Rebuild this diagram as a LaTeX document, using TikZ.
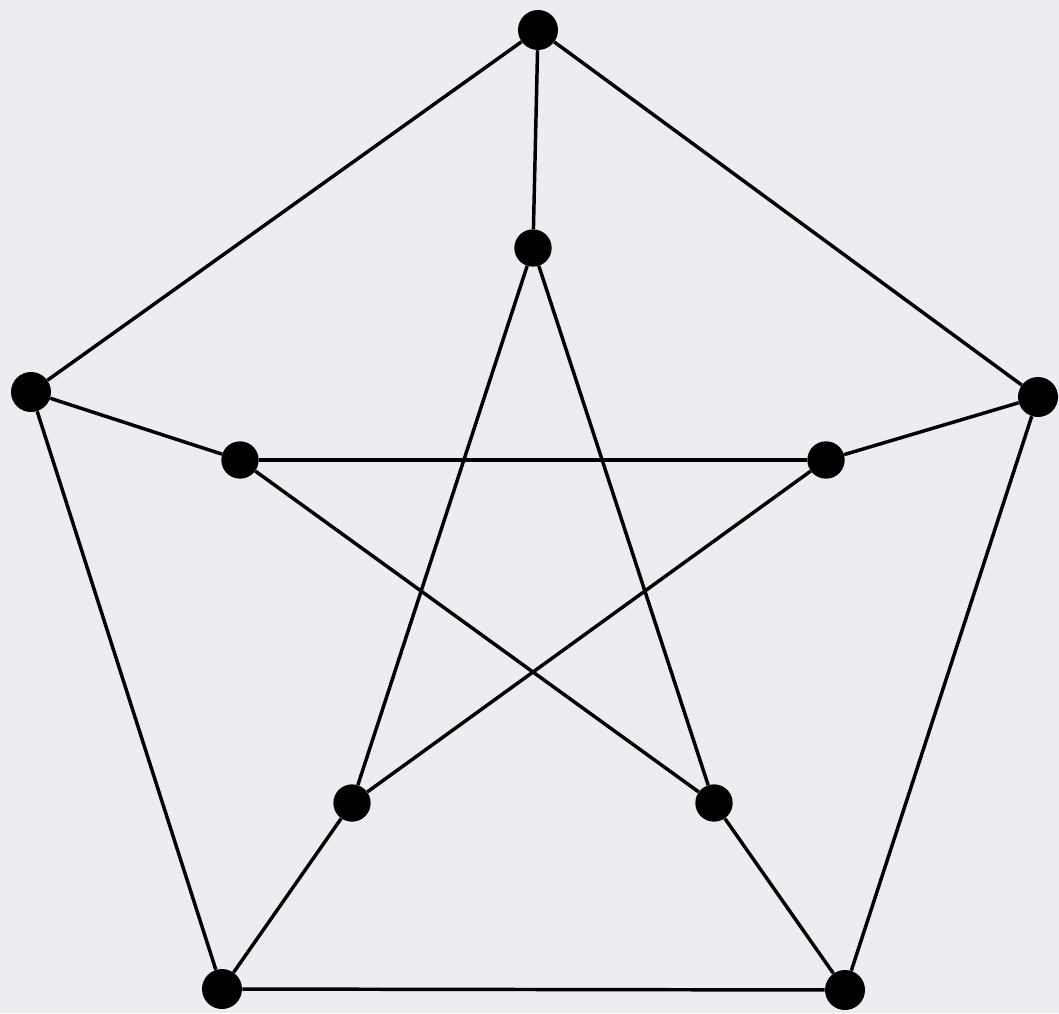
\documentclass[tikz,border=0pt]{standalone}
\definecolor{bg}{HTML}{EBEDF0}
\begin{document}
\begin{tikzpicture}[x=0.75pt,y=-0.75pt,
  vtx/.style={circle,fill=black,inner sep=0pt,minimum size=30pt},
  edge/.style={line width=2.6pt,black}]
\fill[bg] (0,0) rectangle (1059,1013);
\useasboundingbox (0,0) rectangle (1059,1013);
\node[vtx] (o1) at (538,30) {};
\node[vtx] (o2) at (31,392) {};
\node[vtx] (o3) at (1038,397) {};
\node[vtx] (o4) at (222,989) {};
\node[vtx] (o5) at (845,990) {};
\node[vtx,minimum size=28pt] (i1) at (533,248) {};
\node[vtx,minimum size=28pt] (i2) at (240,460) {};
\node[vtx,minimum size=28pt] (i3) at (826,460) {};
\node[vtx,minimum size=28pt] (i4) at (352,803) {};
\node[vtx,minimum size=28pt] (i5) at (714,803) {};
\draw[edge] (o1) -- (o2) -- (o4) -- (o5) -- (o3) -- (o1);
\draw[edge] (o1) -- (i1);
\draw[edge] (o2) -- (i2);
\draw[edge] (o3) -- (i3);
\draw[edge] (o4) -- (i4);
\draw[edge] (o5) -- (i5);
\draw[edge] (i1) -- (i4);
\draw[edge] (i1) -- (i5);
\draw[edge] (i2) -- (i3);
\draw[edge] (i2) -- (i5);
\draw[edge] (i3) -- (i4);
\end{tikzpicture}
\end{document}
